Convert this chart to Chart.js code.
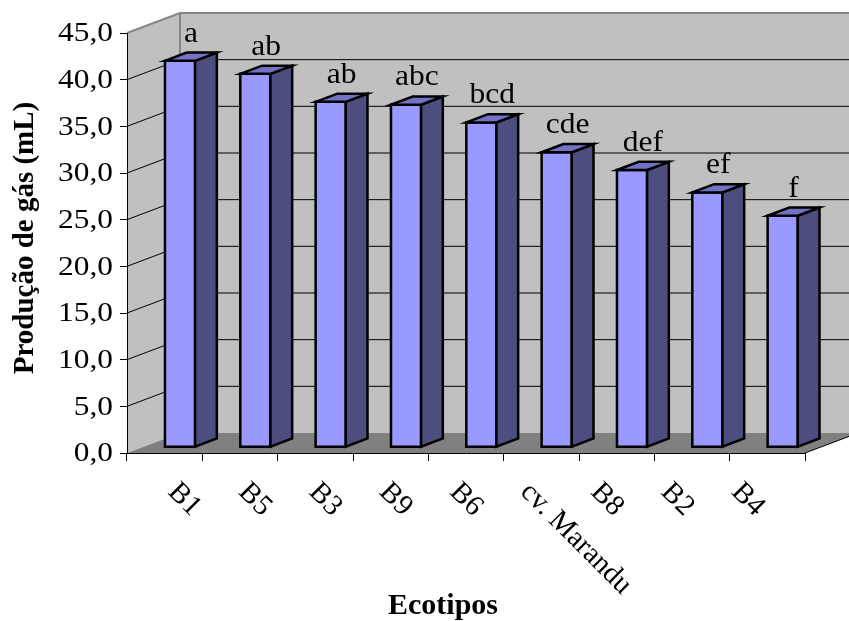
<!DOCTYPE html>
<html>
<head>
<meta charset="utf-8">
<script src="https://cdn.jsdelivr.net/npm/chart.js@4/dist/chart.umd.min.js"></script>
<style>
  html, body { margin: 0; padding: 0; background: #ffffff; }
  canvas { display: block; }
</style>
</head>
<body>
<canvas id="chart" width="849" height="621"></canvas>
<script>
// Ecotypes and in-vitro gas production (mL)
const categories = ['B1', 'B5', 'B3', 'B9', 'B6', 'cv. Marandu', 'B8', 'B2', 'B4'];
const gasProduction = [41.4, 40.0, 37.0, 36.7, 34.8, 31.6, 29.7, 27.3, 24.8];
const groupLetters = ['a', 'ab', 'ab', 'abc', 'bcd', 'cde', 'def', 'ef', 'f'];
const yMin = 0, yMax = 45, yStep = 5;

// 3D look: depth vector of the plot box and the depth slice occupied by the bars
const DEPTH_X = 53, DEPTH_Y = -20;
const BAR_FRONT = 0.29, BAR_BACK = 0.70;
const LABEL_SPREAD = 0.935;
const WIDE_TEXT = 1.12;   // the value-axis numbers are set a little wide

const SERIF = '"Liberation Serif", "Times New Roman", serif';
const WALL = '#C0C0C0', FLOOR = '#808080', EDGE_GRAY = '#868686';
const BAR_FRONT_COLOR = '#9999FF', BAR_SIDE_COLOR = '#4D4D80', BAR_TOP_COLOR = '#7373C6';

const fmt = (v) => Number(v).toFixed(1).replace('.', ',');

function poly(ctx, pts, fill, stroke, lw) {
  ctx.beginPath();
  ctx.moveTo(pts[0][0], pts[0][1]);
  for (let k = 1; k < pts.length; k++) ctx.lineTo(pts[k][0], pts[k][1]);
  ctx.closePath();
  if (fill) { ctx.fillStyle = fill; ctx.fill(); }
  if (stroke) { ctx.strokeStyle = stroke; ctx.lineWidth = lw || 1; ctx.stroke(); }
}

function seg(ctx, pts, color, lw) {
  ctx.beginPath();
  ctx.moveTo(pts[0][0], pts[0][1]);
  for (let k = 1; k < pts.length; k++) ctx.lineTo(pts[k][0], pts[k][1]);
  ctx.strokeStyle = color; ctx.lineWidth = lw; ctx.stroke();
}

// Walls, floor and gridlines of the 3D box, painted under the axes
const boxPlugin = {
  id: 'box3d',
  beforeDraw(chart) {
    const { ctx, chartArea: a, scales: { y } } = chart;
    const dx = DEPTH_X, dy = DEPTH_Y;
    ctx.save();
    ctx.fillStyle = '#ffffff';
    ctx.fillRect(0, 0, chart.width, chart.height);
    // back wall
    poly(ctx, [[a.left + dx, a.top + dy], [a.right + dx, a.top + dy], [a.right + dx, a.bottom + dy], [a.left + dx, a.bottom + dy]], WALL);
    // side wall
    poly(ctx, [[a.left, a.top], [a.left + dx, a.top + dy], [a.left + dx, a.bottom + dy], [a.left, a.bottom]], WALL);
    // floor
    poly(ctx, [[a.left, a.bottom], [a.left + dx, a.bottom + dy], [a.right + dx, a.bottom + dy], [a.right, a.bottom]], FLOOR);
    // gridlines on side and back walls
    y.ticks.forEach(t => {
      if (t.value <= yMin || t.value >= yMax) return;
      const py = y.getPixelForValue(t.value);
      seg(ctx, [[a.left, py], [a.left + dx, py + dy], [a.right + dx, py + dy]], '#000000', 1);
    });
    // wall outlines
    seg(ctx, [[a.left, a.top], [a.left + dx, a.top + dy], [a.right + dx, a.top + dy]], EDGE_GRAY, 2);
    seg(ctx, [[a.left + dx, a.top + dy], [a.left + dx, a.bottom + dy]], EDGE_GRAY, 2);
    seg(ctx, [[a.right, a.bottom], [a.right + dx, a.bottom + dy]], '#000000', 1);
    ctx.restore();
  }
};

// Bars as 3D boxes (front, side, top), built from the bar elements' scale positions
const barPlugin = {
  id: 'bars3d',
  beforeDatasetsDraw(chart) {
    const ctx = chart.ctx;
    const meta = chart.getDatasetMeta(0);
    const fx = DEPTH_X * BAR_FRONT, fy = DEPTH_Y * BAR_FRONT;
    const bx = DEPTH_X * (BAR_BACK - BAR_FRONT), by = DEPTH_Y * (BAR_BACK - BAR_FRONT);
    ctx.save();
    ctx.lineJoin = 'miter';
    const tops = [];
    meta.data.forEach((bar) => {
      const w = bar.width;
      const L = bar.x - w / 2 + fx, R = bar.x + w / 2 + fx;
      const T = bar.y + fy, B = bar.base + fy;
      poly(ctx, [[L, T], [R, T], [R, B], [L, B]], BAR_FRONT_COLOR, '#000000', 2.5);
      poly(ctx, [[R, T], [R + bx, T + by], [R + bx, B + by], [R, B]], BAR_SIDE_COLOR, '#000000', 2.5);
      poly(ctx, [[L, T], [L + bx, T + by], [R + bx, T + by], [R, T]], BAR_TOP_COLOR, '#000000', 2.5);
      tops.push([(L + R) / 2 + bx / 2, T + by]);
    });
    // significance letters above each bar
    ctx.fillStyle = '#000000';
    ctx.font = '30px ' + SERIF;
    ctx.textAlign = 'center';
    ctx.textBaseline = 'alphabetic';
    tops.forEach((p, i) => {
      ctx.save();
      ctx.translate(p[0], p[1] - 11);
      ctx.scale(1.05, 1);
      ctx.fillText(groupLetters[i], 0, 0);
      ctx.restore();
    });
    ctx.restore();
    return false;
  }
};

// Value-axis numbers, slanted category labels and axis titles
const textPlugin = {
  id: 'axisText',
  afterDraw(chart) {
    const { ctx, chartArea: a, scales: { x, y } } = chart;
    ctx.save();
    ctx.fillStyle = '#000000';

    ctx.font = '28px ' + SERIF;
    ctx.textAlign = 'right';
    ctx.textBaseline = 'middle';
    y.ticks.forEach(t => {
      const py = y.getPixelForValue(t.value);
      ctx.save();
      ctx.translate(a.left - 14, py + 1);
      ctx.scale(WIDE_TEXT, 1);
      ctx.fillText(fmt(t.value), 0, 0);
      ctx.restore();
    });

    ctx.font = '29px ' + SERIF;
    ctx.textAlign = 'left';
    ctx.textBaseline = 'alphabetic';
    categories.forEach((c, i) => {
      const px = a.left + (x.getPixelForValue(i) - a.left) * LABEL_SPREAD + 4.8;
      ctx.save();
      ctx.translate(px, a.bottom + 40);
      ctx.rotate(Math.PI / 4);
      ctx.fillText(c, 0, 0);
      ctx.restore();
    });

    ctx.font = 'bold 30px ' + SERIF;
    ctx.textAlign = 'center';
    ctx.fillText('Ecotipos', 443, 614);
    ctx.save();
    ctx.translate(26, 238);
    ctx.rotate(-Math.PI / 2);
    ctx.font = 'bold 29px ' + SERIF;
    ctx.textBaseline = 'middle';
    ctx.fillText('Produção de gás (mL)', 0, 0);
    ctx.restore();
    ctx.restore();
  }
};

new Chart(document.getElementById('chart'), {
  type: 'bar',
  data: {
    labels: categories,
    datasets: [{
      label: 'Produção de gás (mL)',
      data: gasProduction,
      backgroundColor: BAR_FRONT_COLOR,
      barPercentage: 0.4,
      categoryPercentage: 1.0
    }]
  },
  options: {
    responsive: false,
    animation: false,
    devicePixelRatio: 1,
    layout: { padding: { top: 33, right: 44, bottom: 0, left: 0 } },
    plugins: { legend: { display: false }, tooltip: { enabled: false } },
    scales: {
      x: {
        type: 'category',
        offset: true,
        ticks: { display: false },
        grid: { offset: true, drawOnChartArea: false, drawTicks: true, tickLength: 8, color: '#000000', lineWidth: 1 },
        border: { display: true, color: '#000000', width: 1 },
        afterFit(scale) { scale.height = 168; }
      },
      y: {
        min: yMin,
        max: yMax,
        ticks: { stepSize: yStep, display: false, callback: fmt },
        grid: { drawOnChartArea: false, drawTicks: true, tickLength: 7, color: '#000000', lineWidth: 1 },
        border: { display: true, color: '#000000', width: 1 },
        afterFit(scale) { scale.width = 127; }
      }
    }
  },
  plugins: [boxPlugin, barPlugin, textPlugin]
});
</script>
</body>
</html>
